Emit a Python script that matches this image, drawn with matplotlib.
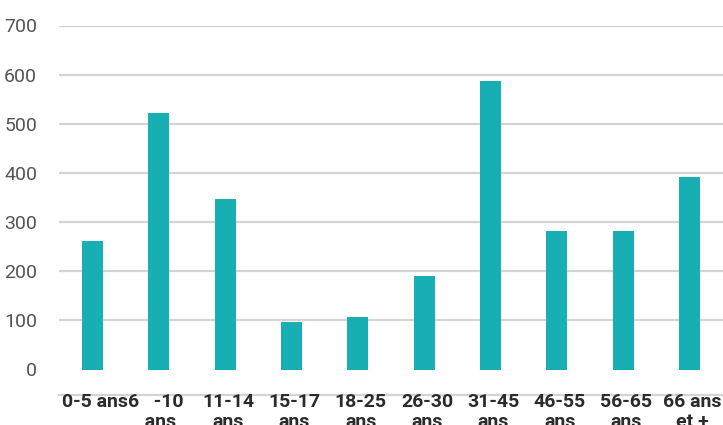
import matplotlib
matplotlib.use("Agg")
import matplotlib.pyplot as plt
import matplotlib.transforms as mtransforms

categories = ["0-5 ans", "6   -10\n  ans", "11-14\nans", "15-17\nans", "18-25\nans",
              "26-30\nans", "31-45\nans", "46-55\nans", "56-65\nans", "66 ans\net +"]
values = [261, 522, 347, 97, 107, 190, 587, 282, 282, 392]
yticks = [0, 100, 200, 300, 400, 500, 600, 700]

plt.rcParams['font.family'] = ['Roboto', 'DejaVu Sans']

fig = plt.figure(figsize=(7.23, 4.25), dpi=100)
W, H = 723, 425
left_px, right_px, top_px, bottom_px = 59.3, 722.7, 25.5, 369.5
ax = fig.add_axes([left_px / W, 1 - bottom_px / H, (right_px - left_px) / W, (bottom_px - top_px) / H])

for s in ['top', 'right', 'left']:
    ax.spines[s].set_visible(False)
ax.spines['bottom'].set_position(('outward', 18))
ax.spines['bottom'].set_color('#d4d4d4')
ax.spines['bottom'].set_linewidth(1.6)
ax.spines['bottom'].set_zorder(0)

x = list(range(len(categories)))
ax.bar(x, values, width=0.32, color="#17AEB4", zorder=3)

ax.set_xlim(-0.5, len(categories) - 0.5)
ax.set_ylim(0, 700)
ax.set_yticks(yticks)
ax.set_yticklabels([str(v) for v in yticks], fontsize=14, color='#555555')
ax.set_xticks(x)
ax.set_xticklabels(categories, fontsize=14, fontweight='bold', color='#2b2b2b', linespacing=1.15)

ax.grid(axis='y', color='#d4d4d4', linewidth=1.6, zorder=0)
ax.yaxis.get_gridlines()[0].set_visible(False)

ax.tick_params(axis='x', length=0, pad=-1)
ax.tick_params(axis='y', length=0, pad=16)

for i, lab in enumerate(ax.get_xticklabels()):
    dx = -3.5 if i == 1 else 3
    offset = mtransforms.ScaledTranslation(dx / 100, 0, fig.dpi_scale_trans)
    lab.set_transform(lab.get_transform() + offset)

fig.savefig("out.png", dpi=100)
